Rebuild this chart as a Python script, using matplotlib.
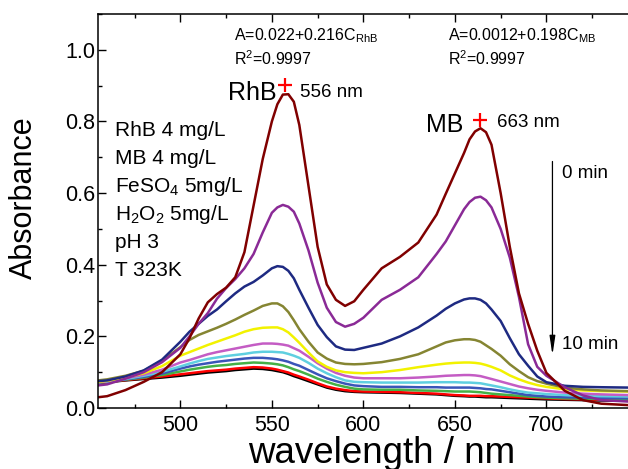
import matplotlib
matplotlib.use('Agg')
import matplotlib.pyplot as plt
from matplotlib.ticker import MultipleLocator

plt.rcParams['font.family'] = ['Liberation Sans', 'DejaVu Sans']
plt.rcParams['mathtext.fontset'] = 'custom'
plt.rcParams['mathtext.rm'] = 'Liberation Sans'
plt.rcParams['mathtext.it'] = 'Liberation Sans:italic'
plt.rcParams['mathtext.bf'] = 'Liberation Sans:bold'

# wavelength grid (nm)
wl = [455, 460, 470, 480, 490, 500, 505, 510, 515, 520, 525, 530, 535, 540,
      545, 550, 553, 556, 559, 562, 565,
      570, 575, 580, 585, 590, 595, 600, 610, 620, 630, 640, 645, 650,
      655, 658, 661, 664, 667, 670,
      675, 680, 685, 690, 695, 700, 710, 720, 730, 745]

# absorbance spectra, 0 min ... 10 min
a0 = [.030, .033, .050, .073, .100, .150, .195, .250, .295, .318, .336, .365, .435, .565,
      .695, .800, .848, .875, .876, .855, .790,
      .620, .450, .345, .302, .285, .298, .330, .390, .422, .462, .540, .598, .655,
      .712, .750, .772, .781, .770, .735,
      .600, .450, .320, .235, .160, .098, .048, .022, .012, .008]
a1 = [.063, .066, .082, .100, .128, .168, .200, .235, .265, .305, .335, .360, .390, .430,
      .490, .545, .560, .567, .562, .548, .515,
      .440, .350, .280, .240, .227, .235, .252, .302, .330, .365, .430, .465, .510,
      .555, .575, .587, .590, .580, .560,
      .500, .420, .310, .178, .115, .090, .058, .035, .022, .018]
a2 = [.075, .077, .088, .105, .135, .185, .213, .235, .257, .275, .298, .320, .339, .352,
      .370, .390, .396, .394, .383, .362, .330,
      .280, .232, .198, .172, .163, .162, .168, .180, .200, .225, .258, .277, .292,
      .303, .306, .306, .302, .292, .275,
      .243, .195, .150, .118, .088, .072, .062, .059, .058, .057]
a3 = [.077, .080, .090, .104, .132, .170, .190, .204, .214, .224, .235, .247, .260, .272,
      .285, .292, .292, .284, .268, .245, .220,
      .185, .155, .138, .127, .123, .122, .123, .128, .137, .150, .172, .183, .189,
      .192, .192, .190, .185, .175, .165,
      .146, .122, .103, .086, .075, .068, .057, .052, .049, .047]
a4 = [.073, .076, .085, .097, .117, .146, .156, .166, .176, .185, .194, .203, .213, .220,
      .224, .225, .225, .220, .211, .197, .182,
      .155, .130, .115, .105, .100, .098, .097, .100, .106, .114, .121, .124, .126,
      .127, .127, .126, .124, .120, .115,
      .105, .091, .080, .071, .064, .059, .052, .049, .047, .046]
a5 = [.072, .075, .083, .093, .107, .127, .134, .142, .150, .156, .161, .166, .171, .176,
      .180, .180, .179, .177, .174, .167, .160,
      .143, .125, .110, .098, .090, .085, .083, .083, .083, .085, .088, .090, .091,
      .092, .092, .091, .089, .085, .081,
      .074, .067, .060, .055, .051, .048, .043, .040, .038, .036]
a6 = [.072, .074, .081, .090, .101, .116, .124, .131, .137, .141, .145, .148, .151, .155,
      .157, .157, .156, .155, .151, .146, .140,
      .126, .110, .097, .086, .077, .073, .072, .071, .071, .071, .072, .072, .072,
      .071, .071, .070, .069, .066, .063,
      .058, .052, .047, .043, .041, .039, .036, .034, .033, .032]
a7 = [.072, .074, .080, .087, .096, .110, .116, .121, .125, .129, .132, .135, .138, .140,
      .140, .138, .136, .133, .129, .123, .118,
      .106, .094, .083, .075, .068, .063, .061, .059, .059, .058, .058, .057, .057,
      .057, .057, .056, .055, .053, .052,
      .048, .044, .040, .036, .034, .032, .030, .029, .028, .027]
a8 = [.071, .073, .079, .085, .092, .102, .107, .111, .115, .118, .120, .123, .125, .127,
      .126, .124, .122, .119, .114, .108, .103,
      .093, .082, .073, .065, .059, .054, .052, .051, .051, .049, .048, .047, .046,
      .046, .046, .045, .044, .042, .040,
      .038, .036, .034, .032, .030, .029, .027, .026, .025, .024]
a9 = [.071, .073, .078, .083, .088, .094, .097, .100, .103, .105, .107, .110, .112, .114,
      .113, .110, .107, .103, .099, .093, .088,
      .079, .069, .060, .054, .050, .047, .046, .045, .044, .042, .040, .038, .036,
      .035, .034, .034, .034, .033, .033,
      .032, .031, .030, .029, .028, .027, .025, .024, .023, .022]
a10 = [.070, .072, .077, .081, .085, .090, .093, .096, .099, .101, .103, .106, .108, .110,
       .109, .106, .103, .100, .095, .089, .084,
       .075, .066, .057, .051, .047, .045, .044, .043, .042, .040, .038, .036, .034,
       .033, .032, .032, .031, .030, .030,
       .029, .028, .027, .026, .025, .024, .023, .022, .021, .020]

spectra = [a0, a1, a2, a3, a4, a5, a6, a7, a8, a9, a10]
colors = ['#800000', '#8a2a96', '#1e2a82', '#858532', '#f2f200', '#c45cc4',
          '#5fcfe0', '#3a55b8', '#45b045', '#ff0000', '#000000']

fig = plt.figure(figsize=(6.28, 4.69), dpi=100)
ax = fig.add_axes([98/628, 61/469, 539/628, 394/469])

for spec, c in zip(spectra[::-1], colors[::-1]):
    ax.plot(wl, spec, color=c, lw=1.8)

ax.set_xlim(455, 749.5)
ax.set_ylim(0, 1.1)
ax.xaxis.set_major_locator(MultipleLocator(50))
ax.xaxis.set_minor_locator(MultipleLocator(25))
ax.yaxis.set_major_locator(MultipleLocator(0.2))
ax.yaxis.set_minor_locator(MultipleLocator(0.1))
ax.yaxis.set_major_formatter(plt.FormatStrFormatter('%.1f'))
ax.tick_params(which='both', direction='in', top=True, width=1.0, labelsize=15.5)
ax.tick_params(which='major', length=5.5)
ax.tick_params(which='minor', length=3)
ax.tick_params(axis='x', pad=5)
ax.tick_params(axis='y', pad=2)
for s in ax.spines.values():
    s.set_linewidth(1.1)

ax.set_ylabel('Absorbance', fontsize=22, va='center')
ax.yaxis.set_label_coords(-0.138, 0.533)
ax.set_xlabel('wavelength / nm', fontsize=26.5, va='baseline')
ax.xaxis.set_label_coords(0.526, -0.14)

# experimental conditions
cond = ['RhB 4 mg/L', 'MB 4 mg/L', r'FeSO$_4$ 5mg/L', r'H$_2$O$_2$ 5mg/L', 'pH 3', 'T 323K']
cond_y = [0.759, 0.681, 0.603, 0.525, 0.447, 0.369]
for t, y in zip(cond, cond_y):
    ax.text(464.3, y, t, fontsize=15, va='baseline')

# calibration equations
ax.text(529.3, 1.027, r'A=0.022+0.216C$_{\mathrm{RhB}}$', fontsize=11.5, va='baseline')
ax.text(529.3, 0.958, r'R$^2$=0.9997', fontsize=11.5, va='baseline')
ax.text(646.3, 1.027, r'A=0.0012+0.198C$_{\mathrm{MB}}$', fontsize=11.5, va='baseline')
ax.text(646.3, 0.958, r'R$^2$=0.9997', fontsize=11.5, va='baseline')

# peak labels
ax.plot([557], [0.902], marker='+', color='red', ms=10, mew=1.6)
ax.text(552.8, 0.86, 'RhB', fontsize=18, ha='right', va='baseline')
ax.text(565.6, 0.868, '556 nm', fontsize=13.5, va='baseline')
ax.plot([663.6], [0.804], marker='+', color='red', ms=10, mew=1.6)
ax.text(654.5, 0.771, 'MB', fontsize=18, ha='right', va='baseline')
ax.text(673, 0.784, '663 nm', fontsize=13.5, va='baseline')

# time arrow
ax.annotate('', xy=(703.3, 0.14), xytext=(703.3, 0.696),
            arrowprops=dict(arrowstyle='-|>,head_width=0.12,head_length=0.8',
                            color='black', lw=0.9, mutation_scale=14))
ax.text(708.6, 0.656, '0 min', fontsize=13.5, va='center')
ax.text(708.6, 0.176, '10 min', fontsize=13.5, va='center')

fig.savefig('out.png', dpi=100)
